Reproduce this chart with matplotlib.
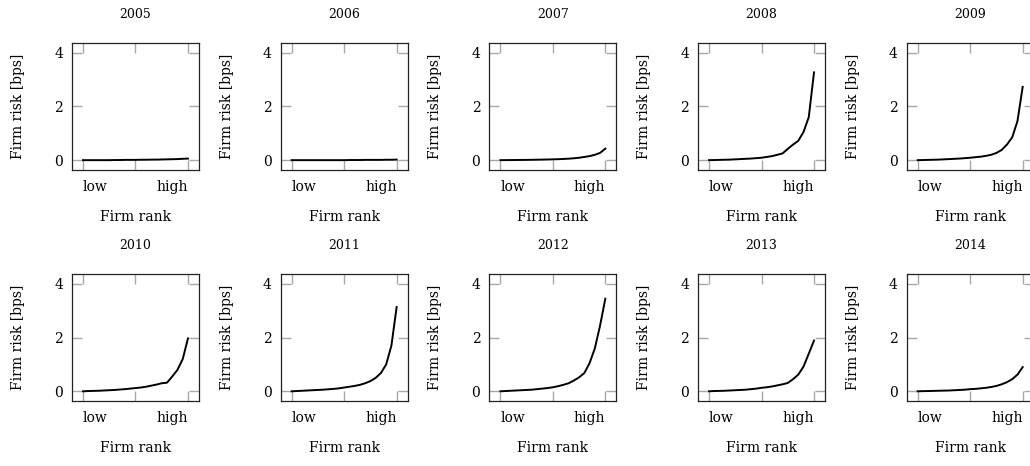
import numpy as np
import matplotlib
matplotlib.use("Agg")
import matplotlib.pyplot as plt

plt.rcParams["font.family"] = ["DejaVu Serif"]

# firm rank (ventiles, low -> high)
rank = np.linspace(0, 1, 21)

years = ["2005", "2006", "2007", "2008", "2009",
         "2010", "2011", "2012", "2013", "2014"]

risk_2005 = [0, 0, 0, 0, 0, 0, 0.005, 0.005, 0.01, 0.01, 0.01, 0.015, 0.015,
             0.02, 0.02, 0.025, 0.03, 0.035, 0.04, 0.05, 0.06]
risk_2006 = [0, 0, 0, 0, 0, 0, 0, 0, 0, 0, 0, 0.005, 0.005, 0.005, 0.01,
             0.01, 0.01, 0.01, 0.015, 0.015, 0.02]
risk_2007 = [0, 0.002, 0.004, 0.006, 0.008, 0.01, 0.013, 0.016, 0.02, 0.025,
             0.03, 0.036, 0.045, 0.055, 0.07, 0.09, 0.12, 0.15, 0.2, 0.27, 0.43]
risk_2008 = [0, 0.005, 0.01, 0.015, 0.02, 0.03, 0.04, 0.05, 0.06, 0.075, 0.09,
             0.12, 0.15, 0.2, 0.25, 0.42, 0.58, 0.72, 1.05, 1.6, 3.27]
risk_2009 = [0, 0.005, 0.01, 0.015, 0.02, 0.03, 0.04, 0.05, 0.06, 0.075, 0.09,
             0.11, 0.13, 0.16, 0.2, 0.27, 0.38, 0.58, 0.85, 1.45, 2.73]
risk_2010 = [0, 0.01, 0.015, 0.02, 0.03, 0.04, 0.05, 0.065, 0.08, 0.1, 0.12,
             0.14, 0.17, 0.21, 0.25, 0.3, 0.32, 0.55, 0.8, 1.2, 1.97]
risk_2011 = [0, 0.01, 0.02, 0.03, 0.04, 0.05, 0.06, 0.075, 0.09, 0.11, 0.14,
             0.17, 0.2, 0.24, 0.3, 0.38, 0.5, 0.68, 1.0, 1.7, 3.14]
risk_2012 = [0, 0.01, 0.02, 0.03, 0.04, 0.05, 0.06, 0.08, 0.1, 0.12, 0.15,
             0.19, 0.24, 0.3, 0.4, 0.52, 0.68, 1.05, 1.6, 2.45, 3.45]
risk_2013 = [0, 0.01, 0.015, 0.02, 0.03, 0.04, 0.05, 0.06, 0.08, 0.1, 0.13,
             0.15, 0.18, 0.22, 0.26, 0.31, 0.45, 0.62, 0.92, 1.4, 1.89]
risk_2014 = [0, 0.005, 0.01, 0.015, 0.02, 0.025, 0.03, 0.04, 0.05, 0.06, 0.08,
             0.09, 0.11, 0.13, 0.16, 0.2, 0.26, 0.34, 0.45, 0.62, 0.9]

all_risk = [risk_2005, risk_2006, risk_2007, risk_2008, risk_2009,
            risk_2010, risk_2011, risk_2012, risk_2013, risk_2014]

fig = plt.figure(figsize=(10.3, 4.66), dpi=100)

# axes placement (figure fractions)
lefts = [0.0699, 0.2725, 0.4751, 0.6777, 0.8803]
bottoms = [0.635, 0.139]
w, h = 0.1233, 0.2725

for i, (yr, risk) in enumerate(zip(years, all_risk)):
    r, c = divmod(i, 5)
    ax = fig.add_axes([lefts[c], bottoms[r], w, h])
    ax.plot(rank, risk, color="black", lw=1.4)

    ax.set_xlim(-0.105, 1.105)
    ax.set_ylim(-0.37, 4.36)
    ax.set_xticks([0, 0.5, 1])
    ax.set_xticklabels(["low", "", "high"])
    ax.set_yticks([0, 2, 4])
    ax.set_yticklabels(["0", "2", "4"])

    ax.tick_params(direction="in", length=7.5, width=1, color="#a8a8a8",
                   top=True, right=True, labelsize=10)
    ax.tick_params(axis="x", pad=7)
    ax.tick_params(axis="y", pad=6.5)
    # low label starts at its tick, high label ends at its tick
    xl = ax.get_xticklabels()
    xl[0].set_ha("left")
    xl[2].set_ha("right")
    for s in ax.spines.values():
        s.set_linewidth(0.9)
        s.set_color("#222222")

    ax.set_title(yr, fontsize=9, pad=18)
    ax.set_xlabel("Firm rank", fontsize=10)
    ax.set_ylabel("Firm risk [bps]", fontsize=10)
    ax.xaxis.set_label_coords(0.5, -0.315)
    ax.yaxis.set_label_coords(-0.37, 0.5)

fig.savefig("out.png", dpi=100)
